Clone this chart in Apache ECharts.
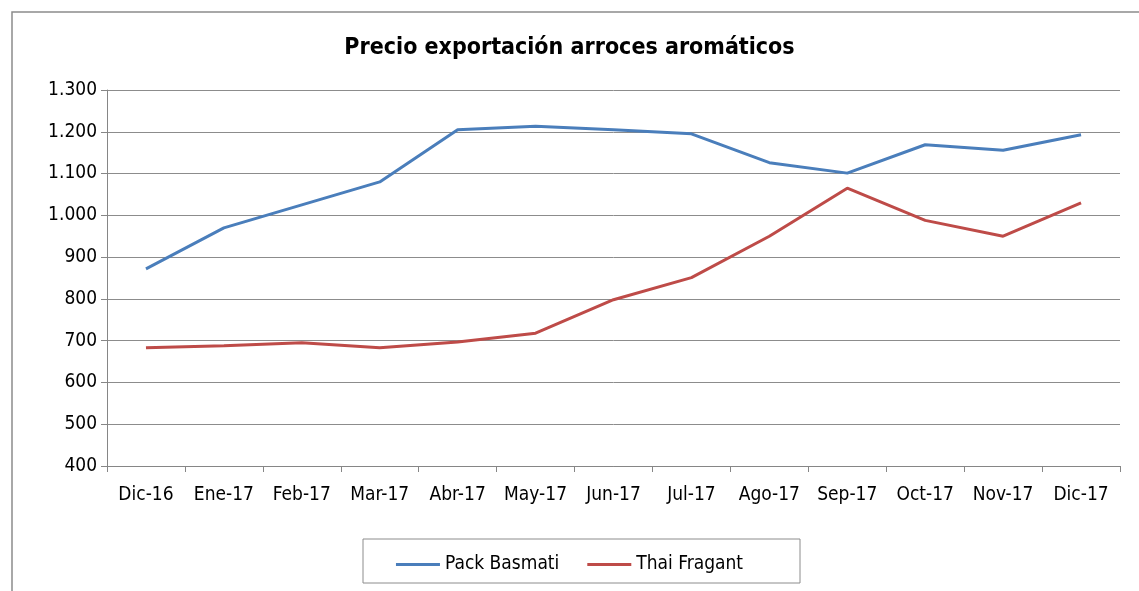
<!DOCTYPE html>
<html>
<head>
<meta charset="utf-8">
<script src="https://cdn.jsdelivr.net/npm/echarts@6/dist/echarts.min.js"></script>
<style>
  html, body { margin: 0; padding: 0; background: #fff; }
  #chart { width: 1139px; height: 591px; }
</style>
</head>
<body>
<div id="chart"></div>
<script>
const meses = ['Dic-16', 'Ene-17', 'Feb-17', 'Mar-17', 'Abr-17', 'May-17', 'Jun-17', 'Jul-17', 'Ago-17', 'Sep-17', 'Oct-17', 'Nov-17', 'Dic-17']
const packBasmati = [872, 970, 1025, 1080, 1205, 1213, 1205, 1195, 1126, 1101, 1169, 1156, 1193]
const thaiFragant = [683, 688, 695, 683, 697, 718, 798, 851, 950, 1065, 988, 950, 1030]

const fuente = '"DejaVu Sans Condensed", "Liberation Sans Narrow", sans-serif'
const chart = echarts.init(document.getElementById('chart'))

const option = {
  animation: false,
  backgroundColor: '#fff',
  textStyle: { fontFamily: fuente },
  title: {
    text: 'Precio exportación arroces aromáticos',
    left: 'center',
    top: 32,
    textStyle: { fontSize: 23, fontWeight: 'bold', color: '#000', fontFamily: fuente }
  },
  // marco exterior del gráfico
  graphic: [
    {
      type: 'rect',
      shape: { x: 12, y: 12, width: 1140, height: 600 },
      style: { fill: 'none', stroke: '#8c8c8c', lineWidth: 1.5 }
    },
    {
      type: 'rect',
      shape: { x: 363, y: 539, width: 437, height: 44 },
      style: { fill: 'none', stroke: '#8c8c8c', lineWidth: 1 }
    }
  ],
  legend: {
    left: 'center',
    top: 550,
    itemWidth: 44,
    itemHeight: 3,
    itemGap: 28,
    icon: 'rect',
    textStyle: { fontSize: 19, color: '#000', fontFamily: fuente },
    data: ['Pack Basmati', 'Thai Fragant']
  },
  grid: { left: 107, right: 19, top: 90, bottom: 125 },
  xAxis: {
    type: 'category',
    data: meses,
    boundaryGap: true,
    axisLine: { lineStyle: { color: '#868686', width: 1 } },
    axisTick: { show: true, length: 6, lineStyle: { color: '#868686' } },
    axisLabel: { fontSize: 19, color: '#000', margin: 20, interval: 0 }
  },
  yAxis: {
    type: 'value',
    min: 400,
    max: 1300,
    interval: 100,
    axisLine: { show: true, lineStyle: { color: '#868686' } },
    axisTick: { show: true, length: 6, lineStyle: { color: '#868686' } },
    axisLabel: {
      fontSize: 19,
      color: '#000',
      margin: 10,
      formatter: function (v) {
        return v.toString().replace(/\B(?=(\d{3})+(?!\d))/g, '.')
      }
    },
    splitLine: { lineStyle: { color: '#8c8c8c', width: 1 } }
  },
  series: [
    {
      name: 'Pack Basmati',
      type: 'line',
      data: packBasmati,
      symbol: 'none',
      color: '#4a7ebb',
      lineStyle: { width: 3, color: '#4a7ebb' }
    },
    {
      name: 'Thai Fragant',
      type: 'line',
      data: thaiFragant,
      symbol: 'none',
      color: '#be4b48',
      lineStyle: { width: 3, color: '#be4b48' }
    }
  ]
}

chart.setOption(option)
window.addEventListener('resize', function () {
  chart.resize()
})
</script>
</body>
</html>
